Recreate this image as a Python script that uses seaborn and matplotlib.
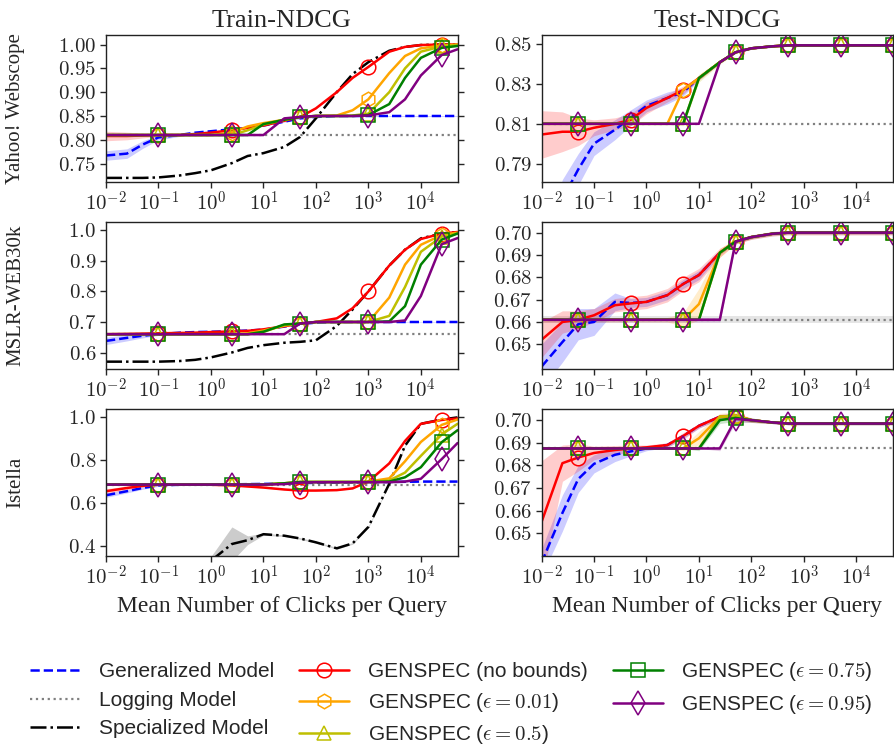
import numpy as np
import matplotlib
matplotlib.use("Agg")
import matplotlib.pyplot as plt
import matplotlib.ticker as mticker
import seaborn as sns

sns.set_style("ticks")
plt.rcParams["font.family"] = ["Liberation Serif", "DejaVu Serif"]
plt.rcParams["mathtext.fontset"] = "cm"
plt.rcParams["axes.linewidth"] = 1.0
plt.rcParams["axes.edgecolor"] = "#222222"

# mean number of clicks per query (x grid)
clicks = [0.01, 0.025, 0.05, 0.1, 0.25, 0.5, 1, 2.5, 5, 10, 25, 50, 100, 250, 500,
          1000, 2500, 5000, 10000, 25000, 50000]

# ---------------- Yahoo! Webscope ----------------
ya_log = 0.81
ya_tr_gen = [0.767, 0.771, 0.790, 0.805, 0.810, 0.815, 0.818, 0.822, 0.825, 0.830, 0.838,
             0.845, 0.848, 0.850, 0.850, 0.850, 0.850, 0.850, 0.850, 0.850, 0.850]
ya_tr_gen_sd = [0.010, 0.010, 0.008, 0.005, 0.003, 0.002, 0.002, 0.001, 0.001, 0.001, 0.001,
                0.001, 0.001, 0.001, 0.001, 0.001, 0.001, 0.001, 0.001, 0.001, 0.001]
ya_tr_spec = [0.720, 0.720, 0.720, 0.721, 0.725, 0.730, 0.736, 0.751, 0.766, 0.772, 0.785,
              0.806, 0.845, 0.900, 0.938, 0.963, 0.987, 0.995, 0.999, 1.000, 1.000]
ya_tr_red = [0.808, 0.808, 0.809, 0.810, 0.810, 0.812, 0.815, 0.820, 0.825, 0.830, 0.840,
             0.848, 0.866, 0.900, 0.930, 0.953, 0.985, 0.995, 0.999, 1.000, 1.000]
ya_tr_red_sd = [0.010, 0.008, 0.005, 0.003, 0.002, 0.001, 0.001, 0.001, 0.001, 0.001, 0.001,
                0.001, 0.001, 0.001, 0.001, 0.001, 0.001, 0.001, 0.001, 0.001, 0.001]
ya_tr_e01 = [0.810, 0.810, 0.810, 0.810, 0.810, 0.810, 0.810, 0.815, 0.828, 0.835, 0.842,
             0.848, 0.850, 0.851, 0.862, 0.885, 0.940, 0.976, 0.992, 0.998, 1.000]
ya_tr_e05 = [0.810, 0.810, 0.810, 0.810, 0.810, 0.810, 0.810, 0.810, 0.820, 0.832, 0.842,
             0.848, 0.850, 0.850, 0.851, 0.855, 0.900, 0.950, 0.985, 0.996, 0.999]
ya_tr_e075 = [0.810, 0.810, 0.810, 0.810, 0.810, 0.810, 0.810, 0.810, 0.810, 0.833, 0.842,
              0.848, 0.850, 0.850, 0.850, 0.852, 0.875, 0.930, 0.972, 0.993, 0.997]
ya_tr_e095 = [0.810, 0.810, 0.810, 0.810, 0.810, 0.810, 0.810, 0.810, 0.810, 0.810, 0.845,
              0.848, 0.850, 0.850, 0.850, 0.851, 0.858, 0.885, 0.935, 0.978, 0.990]

ya_te_gen = [0.740, 0.772, 0.787, 0.800, 0.807, 0.813, 0.819, 0.823, 0.826, 0.833, 0.841,
             0.846, 0.848, 0.849, 0.8495, 0.8495, 0.8495, 0.8495, 0.8495, 0.8495, 0.8495]
ya_te_gen_sd = [0.012, 0.010, 0.008, 0.006, 0.005, 0.004, 0.003, 0.003, 0.002, 0.001, 0.0005,
                0.0005, 0.0005, 0.0005, 0.0005, 0.0005, 0.0005, 0.0005, 0.0005, 0.0005, 0.0005]
ya_te_red = [0.8046, 0.806, 0.806, 0.808, 0.810, 0.812, 0.818, 0.823, 0.827, 0.833, 0.841,
             0.846, 0.848, 0.849, 0.8495, 0.8495, 0.8495, 0.8495, 0.8495, 0.8495, 0.8495]
ya_te_red_sd = [0.012, 0.010, 0.007, 0.004, 0.003, 0.003, 0.003, 0.002, 0.002, 0.001, 0.0005,
                0.0005, 0.0005, 0.0005, 0.0005, 0.0005, 0.0005, 0.0005, 0.0005, 0.0005, 0.0005]
ya_te_e01 = [0.810, 0.810, 0.810, 0.810, 0.810, 0.810, 0.810, 0.810, 0.827, 0.833, 0.841,
             0.846, 0.848, 0.849, 0.8495, 0.8495, 0.8495, 0.8495, 0.8495, 0.8495, 0.8495]
ya_te_e05 = [0.810, 0.810, 0.810, 0.810, 0.810, 0.810, 0.810, 0.810, 0.810, 0.833, 0.841,
             0.846, 0.848, 0.849, 0.8495, 0.8495, 0.8495, 0.8495, 0.8495, 0.8495, 0.8495]
ya_te_e05_sd = [0, 0, 0, 0, 0, 0, 0, 0, 0.001, 0.002, 0.001,
                0.0005, 0.0005, 0.0005, 0.0005, 0.0005, 0.0005, 0.0005, 0.0005, 0.0005, 0.0005]
ya_te_e075 = [0.810, 0.810, 0.810, 0.810, 0.810, 0.810, 0.810, 0.810, 0.810, 0.833, 0.841,
              0.846, 0.848, 0.849, 0.8495, 0.8495, 0.8495, 0.8495, 0.8495, 0.8495, 0.8495]
ya_te_e095 = [0.810, 0.810, 0.810, 0.810, 0.810, 0.810, 0.810, 0.810, 0.810, 0.810, 0.841,
              0.846, 0.848, 0.849, 0.8495, 0.8495, 0.8495, 0.8495, 0.8495, 0.8495, 0.8495]

# ---------------- MSLR-WEB30k ----------------
ms_tr_log = 0.66
ms_tr_gen = [0.638, 0.648, 0.655, 0.660, 0.665, 0.667, 0.668, 0.670, 0.672, 0.675, 0.685,
             0.693, 0.698, 0.700, 0.700, 0.700, 0.700, 0.700, 0.700, 0.700, 0.700]
ms_tr_gen_sd = [0.012, 0.010, 0.007, 0.004, 0.002, 0.001, 0.001, 0.001, 0.001, 0.001, 0.001,
                0.001, 0.001, 0.001, 0.001, 0.001, 0.001, 0.001, 0.001, 0.001, 0.001]
ms_tr_spec = [0.570, 0.570, 0.570, 0.570, 0.572, 0.576, 0.584, 0.600, 0.615, 0.624, 0.632,
              0.635, 0.640, 0.687, 0.741, 0.800, 0.885, 0.937, 0.974, 0.990, 0.995]
ms_tr_red = [0.660, 0.661, 0.662, 0.663, 0.664, 0.665, 0.667, 0.669, 0.671, 0.676, 0.686,
             0.695, 0.700, 0.712, 0.745, 0.800, 0.885, 0.937, 0.972, 0.990, 0.995]
ms_tr_red_sd = [0.003, 0.002, 0.001, 0.001, 0.001, 0.001, 0.001, 0.001, 0.001, 0.001, 0.001,
                0.001, 0.001, 0.001, 0.001, 0.001, 0.001, 0.001, 0.001, 0.001, 0.001]
ms_tr_e01 = [0.660, 0.660, 0.660, 0.660, 0.660, 0.660, 0.660, 0.660, 0.663, 0.672, 0.688,
             0.695, 0.700, 0.700, 0.700, 0.700, 0.780, 0.888, 0.953, 0.985, 0.993]
ms_tr_e05 = [0.660, 0.660, 0.660, 0.660, 0.660, 0.660, 0.660, 0.660, 0.660, 0.668, 0.690,
             0.695, 0.700, 0.700, 0.700, 0.700, 0.720, 0.815, 0.930, 0.980, 0.990]
ms_tr_e075 = [0.660, 0.660, 0.660, 0.660, 0.660, 0.660, 0.660, 0.660, 0.660, 0.668, 0.692,
              0.695, 0.700, 0.700, 0.700, 0.700, 0.702, 0.752, 0.888, 0.970, 0.990]
ms_tr_e095 = [0.660, 0.660, 0.660, 0.660, 0.660, 0.660, 0.660, 0.660, 0.660, 0.660, 0.660,
              0.695, 0.700, 0.700, 0.700, 0.700, 0.700, 0.705, 0.785, 0.955, 0.975]

ms_te_log = 0.661
ms_te_log_sd = 0.0016
ms_te_gen = [0.640, 0.651, 0.659, 0.660, 0.669, 0.6685, 0.669, 0.672, 0.677, 0.681, 0.691,
             0.696, 0.698, 0.6995, 0.700, 0.700, 0.700, 0.700, 0.700, 0.700, 0.700]
ms_te_gen_sd = [0.010, 0.009, 0.007, 0.006, 0.004, 0.002, 0.002, 0.002, 0.002, 0.002, 0.001,
                0.0005, 0.0005, 0.0005, 0.0005, 0.0005, 0.0005, 0.0005, 0.0005, 0.0005, 0.0005]
ms_te_red = [0.652, 0.660, 0.661, 0.663, 0.6675, 0.6683, 0.669, 0.672, 0.677, 0.681, 0.691,
             0.696, 0.698, 0.6995, 0.700, 0.700, 0.700, 0.700, 0.700, 0.700, 0.700]
ms_te_red_sd = [0.008, 0.005, 0.004, 0.003, 0.003, 0.003, 0.003, 0.003, 0.003, 0.003, 0.002,
                0.001, 0.0008, 0.0006, 0.0006, 0.0006, 0.0006, 0.0006, 0.0006, 0.0006, 0.0006]
ms_te_e01 = [0.661, 0.661, 0.661, 0.661, 0.661, 0.661, 0.661, 0.661, 0.661, 0.668, 0.691,
             0.696, 0.698, 0.6995, 0.700, 0.700, 0.700, 0.700, 0.700, 0.700, 0.700]
ms_te_e01_sd = [0.001, 0.001, 0.001, 0.001, 0.001, 0.001, 0.001, 0.001, 0.003, 0.007, 0.002,
                0.001, 0.001, 0.001, 0.001, 0.001, 0.001, 0.001, 0.001, 0.001, 0.001]
ms_te_e05 = [0.661, 0.661, 0.661, 0.661, 0.661, 0.661, 0.661, 0.661, 0.661, 0.661, 0.691,
             0.696, 0.698, 0.6995, 0.700, 0.700, 0.700, 0.700, 0.700, 0.700, 0.700]
ms_te_e075 = [0.661, 0.661, 0.661, 0.661, 0.661, 0.661, 0.661, 0.661, 0.661, 0.661, 0.691,
              0.696, 0.698, 0.6995, 0.700, 0.700, 0.700, 0.700, 0.700, 0.700, 0.700]
ms_te_e095 = [0.661, 0.661, 0.661, 0.661, 0.661, 0.661, 0.661, 0.661, 0.661, 0.661, 0.661,
              0.696, 0.698, 0.6995, 0.700, 0.700, 0.700, 0.700, 0.700, 0.700, 0.700]
ms_te_e095_sd = [0.001, 0.001, 0.001, 0.001, 0.001, 0.001, 0.001, 0.001, 0.001, 0.001, 0.001,
                 0.001, 0.001, 0.001, 0.001, 0.001, 0.001, 0.001, 0.001, 0.001, 0.001]

# ---------------- Istella ----------------
is_tr_log = 0.686
is_tr_gen = [0.636, 0.655, 0.670, 0.682, 0.685, 0.686, 0.686, 0.687, 0.688, 0.689, 0.691,
             0.693, 0.694, 0.695, 0.696, 0.697, 0.698, 0.699, 0.700, 0.700, 0.700]
is_tr_gen_sd = [0.010, 0.008, 0.006, 0.004, 0.002, 0.001, 0.001, 0.001, 0.001, 0.001, 0.001,
                0.001, 0.001, 0.001, 0.001, 0.001, 0.001, 0.001, 0.001, 0.001, 0.001]
is_tr_spec = [0.280, 0.280, 0.280, 0.280, 0.290, 0.300, 0.330, 0.408, 0.426, 0.454, 0.447,
              0.434, 0.416, 0.388, 0.411, 0.488, 0.690, 0.868, 0.970, 0.990, 1.000]
is_tr_spec_sd = [0.005, 0.005, 0.005, 0.005, 0.005, 0.010, 0.020, 0.080, 0.020, 0.005, 0.004,
                 0.004, 0.004, 0.004, 0.004, 0.004, 0.004, 0.004, 0.002, 0.001, 0.001]
is_tr_red = [0.655, 0.670, 0.680, 0.685, 0.686, 0.686, 0.685, 0.682, 0.677, 0.672, 0.663,
             0.658, 0.658, 0.660, 0.668, 0.700, 0.785, 0.890, 0.970, 0.988, 0.995]
is_tr_red_sd = [0.012, 0.008, 0.005, 0.003, 0.002, 0.002, 0.002, 0.002, 0.002, 0.002, 0.002,
                0.002, 0.002, 0.002, 0.002, 0.002, 0.002, 0.002, 0.002, 0.002, 0.002]
is_tr_e01 = [0.686, 0.686, 0.686, 0.686, 0.686, 0.686, 0.686, 0.686, 0.686, 0.686, 0.692,
             0.698, 0.698, 0.698, 0.698, 0.700, 0.715, 0.795, 0.885, 0.965, 0.990]
is_tr_e05 = [0.686, 0.686, 0.686, 0.686, 0.686, 0.686, 0.686, 0.686, 0.686, 0.686, 0.692,
             0.698, 0.698, 0.698, 0.698, 0.698, 0.705, 0.742, 0.820, 0.920, 0.970]
is_tr_e075 = [0.686, 0.686, 0.686, 0.686, 0.686, 0.686, 0.686, 0.686, 0.686, 0.686, 0.692,
              0.698, 0.698, 0.698, 0.698, 0.698, 0.700, 0.720, 0.767, 0.884, 0.940]
is_tr_e095 = [0.686, 0.686, 0.686, 0.686, 0.686, 0.686, 0.686, 0.686, 0.686, 0.686, 0.688,
              0.695, 0.697, 0.697, 0.697, 0.697, 0.697, 0.700, 0.713, 0.805, 0.880]

is_te_log = 0.6875
is_te_gen = [0.637, 0.659, 0.674, 0.6807, 0.6847, 0.6862, 0.6875, 0.689, 0.693, 0.6975, 0.7015,
             0.702, 0.700, 0.699, 0.6985, 0.6985, 0.6985, 0.6985, 0.6985, 0.6985, 0.6985]
is_te_gen_sd = [0.006, 0.008, 0.006, 0.004, 0.003, 0.002, 0.001, 0.001, 0.001, 0.001, 0.001,
                0.001, 0.0005, 0.0005, 0.0005, 0.0005, 0.0005, 0.0005, 0.0005, 0.0005, 0.0005]
is_te_red = [0.655, 0.681, 0.6835, 0.6855, 0.6868, 0.6875, 0.688, 0.689, 0.693, 0.6975, 0.7015,
             0.702, 0.700, 0.699, 0.6985, 0.6985, 0.6985, 0.6985, 0.6985, 0.6985, 0.6985]
is_te_red_sd = [0.027, 0.008, 0.006, 0.003, 0.002, 0.0015, 0.001, 0.001, 0.0015, 0.001, 0.001,
                0.001, 0.0008, 0.0005, 0.0005, 0.0005, 0.0005, 0.0005, 0.0005, 0.0005, 0.0005]
is_te_e01 = [0.6875, 0.6875, 0.6875, 0.6875, 0.6875, 0.6875, 0.6875, 0.6875, 0.6875, 0.692, 0.7015,
             0.702, 0.700, 0.699, 0.6985, 0.6985, 0.6985, 0.6985, 0.6985, 0.6985, 0.6985]
is_te_e01_sd = [0, 0, 0, 0, 0, 0, 0, 0, 0.001, 0.003, 0.0015,
                0.0015, 0.001, 0.0005, 0.0005, 0.0005, 0.0005, 0.0005, 0.0005, 0.0005, 0.0005]
is_te_e05 = [0.6875, 0.6875, 0.6875, 0.6875, 0.6875, 0.6875, 0.6875, 0.6875, 0.6875, 0.6875, 0.7015,
             0.702, 0.700, 0.699, 0.6985, 0.6985, 0.6985, 0.6985, 0.6985, 0.6985, 0.6985]
is_te_e075 = [0.6875, 0.6875, 0.6875, 0.6875, 0.6875, 0.6875, 0.6875, 0.6875, 0.6875, 0.6875, 0.700,
              0.701, 0.700, 0.699, 0.6985, 0.6985, 0.6985, 0.6985, 0.6985, 0.6985, 0.6985]
is_te_e075_sd = [0, 0, 0, 0, 0, 0, 0, 0, 0, 0.001, 0.0015,
                 0.0015, 0.001, 0.0005, 0.0005, 0.0005, 0.0005, 0.0005, 0.0005, 0.0005, 0.0005]
is_te_e095 = [0.6875, 0.6875, 0.6875, 0.6875, 0.6875, 0.6875, 0.6875, 0.6875, 0.6875, 0.6875, 0.6875,
              0.7005, 0.700, 0.699, 0.6985, 0.6985, 0.6985, 0.6985, 0.6985, 0.6985, 0.6985]
is_te_e095_sd = [0, 0, 0, 0, 0, 0, 0, 0, 0, 0, 0.001,
                 0.0015, 0.001, 0.0005, 0.0005, 0.0005, 0.0005, 0.0005, 0.0005, 0.0005, 0.0005]

styles = {
    "gen": dict(color="blue", linestyle="--", label="Generalized Model"),
    "spec": dict(color="black", linestyle="-.", label="Specialized Model"),
    "red": dict(color="red", marker="o", ms=10.5, label="GENSPEC (no bounds)"),
    "e01": dict(color="orange", marker="h", ms=10.5, label=r"GENSPEC ($\epsilon = 0.01$)"),
    "e05": dict(color="#bfbf00", marker="^", ms=10, label=r"GENSPEC ($\epsilon = 0.5$)"),
    "e075": dict(color="green", marker="s", ms=9.5, label=r"GENSPEC ($\epsilon = 0.75$)"),
    "e095": dict(color="purple", marker="d", ms=12, label=r"GENSPEC ($\epsilon = 0.95$)"),
}

# row, col, logging value, logging band, series, bands, y ticks, tick format, y range
panels = [
    (0, 0, ya_log, 0, {"gen": ya_tr_gen, "spec": ya_tr_spec, "red": ya_tr_red, "e01": ya_tr_e01,
                       "e05": ya_tr_e05, "e075": ya_tr_e075, "e095": ya_tr_e095},
     {"gen": ya_tr_gen_sd, "red": ya_tr_red_sd},
     [0.75, 0.80, 0.85, 0.90, 0.95, 1.00], "%.2f", (0.711, 1.02)),
    (0, 1, ya_log, 0, {"gen": ya_te_gen, "red": ya_te_red, "e01": ya_te_e01,
                       "e05": ya_te_e05, "e075": ya_te_e075, "e095": ya_te_e095},
     {"gen": ya_te_gen_sd, "red": ya_te_red_sd, "e05": ya_te_e05_sd},
     [0.79, 0.81, 0.83, 0.85], "%.2f", (0.7806, 0.8547)),
    (1, 0, ms_tr_log, 0, {"gen": ms_tr_gen, "spec": ms_tr_spec, "red": ms_tr_red, "e01": ms_tr_e01,
                          "e05": ms_tr_e05, "e075": ms_tr_e075, "e095": ms_tr_e095},
     {"gen": ms_tr_gen_sd, "red": ms_tr_red_sd},
     [0.6, 0.7, 0.8, 0.9, 1.0], "%.1f", (0.5456, 1.028)),
    (1, 1, ms_te_log, ms_te_log_sd, {"gen": ms_te_gen, "red": ms_te_red, "e01": ms_te_e01,
                                     "e05": ms_te_e05, "e075": ms_te_e075, "e095": ms_te_e095},
     {"gen": ms_te_gen_sd, "red": ms_te_red_sd, "e01": ms_te_e01_sd, "e095": ms_te_e095_sd},
     [0.65, 0.66, 0.67, 0.68, 0.69, 0.70], "%.2f", (0.6389, 0.7048)),
    (2, 0, is_tr_log, 0, {"gen": is_tr_gen, "spec": is_tr_spec, "red": is_tr_red, "e01": is_tr_e01,
                          "e05": is_tr_e05, "e075": is_tr_e075, "e095": is_tr_e095},
     {"gen": is_tr_gen_sd, "spec": is_tr_spec_sd, "red": is_tr_red_sd},
     [0.4, 0.6, 0.8, 1.0], "%.1f", (0.352, 1.04)),
    (2, 1, is_te_log, 0, {"gen": is_te_gen, "red": is_te_red, "e01": is_te_e01,
                          "e05": is_te_e05, "e075": is_te_e075, "e095": is_te_e095},
     {"gen": is_te_gen_sd, "red": is_te_red_sd, "e01": is_te_e01_sd,
      "e075": is_te_e075_sd, "e095": is_te_e095_sd},
     [0.65, 0.66, 0.67, 0.68, 0.69, 0.70], "%.2f", (0.640, 0.705)),
]

row_names = ["Yahoo! Webscope", "MSLR-WEB30k", "Istella"]
col_names = ["Train-NDCG", "Test-NDCG"]

fig = plt.figure(figsize=(8.94, 7.53), dpi=100)
axes = fig.subplots(3, 2)
fig.subplots_adjust(left=0.1186, right=0.9989, top=0.9535, bottom=0.2616,
                    hspace=0.27, wspace=0.239)

x = np.array(clicks)
for r, c, logv, log_sd, series, bands, yticks, yfmt, ylim in panels:
    ax = axes[r, c]
    ax.set_xscale("log")
    every = (3, 4) if c == 0 else (2, 3)
    for key in ["gen", "log", "spec", "red", "e01", "e05", "e075", "e095"]:
        if key == "log":
            ax.axhline(logv, color="gray", linestyle=":", lw=1.6, zorder=2,
                       label="Logging Model")
            if log_sd:
                ax.axhspan(logv - log_sd, logv + log_sd, color="gray", alpha=0.2, lw=0)
            continue
        if key not in series:
            continue
        y = np.array(series[key])
        st = dict(styles[key])
        col = st.pop("color")
        if key in bands:
            sd = np.array(bands[key])
            ax.fill_between(x, y - sd, y + sd, color=col if key != "spec" else "gray",
                            alpha=0.2 if key != "spec" else 0.4, lw=0)
        kw = dict(color=col, lw=1.8, label=st.pop("label"))
        if "marker" in st:
            kw.update(marker=st.pop("marker"), ms=st.pop("ms"), markevery=every,
                      markerfacecolor="none", markeredgecolor=col, markeredgewidth=1.1)
        kw.update(st)
        sns.lineplot(x=clicks, y=series[key], ax=ax, errorbar=None, legend=False, **kw)

    ax.set_xlim(0.01, 5e4)
    ax.set_ylim(*ylim)
    ax.xaxis.set_major_locator(mticker.FixedLocator([1e-2, 1e-1, 1, 10, 100, 1e3, 1e4]))
    ax.xaxis.set_minor_locator(mticker.NullLocator())
    ax.xaxis.set_major_formatter(mticker.FuncFormatter(
        lambda v, p: r"$10^{%d}$" % int(round(np.log10(v)))))
    ax.yaxis.set_major_locator(mticker.FixedLocator(yticks))
    ax.yaxis.set_major_formatter(mticker.FuncFormatter(
        lambda v, p, f=yfmt: "$" + (f % v) + "$"))
    ax.tick_params(axis="both", which="major", labelsize=15, length=4, width=1,
                   pad=3, right=True, direction="out")
    ax.set_xlabel("")
    ax.set_ylabel("")
    if c == 0:
        ax.set_ylabel(row_names[r], fontsize=15)
        ax.yaxis.set_label_coords(-0.23, 0.5)
    if r == 0:
        ax.set_title(col_names[c], fontsize=19, pad=6)
    if r == 2:
        ax.set_xlabel("Mean Number of Clicks per Query", fontsize=17)
        ax.xaxis.set_label_coords(0.5, -0.27)

handles, labels = axes[0, 0].get_legend_handles_labels()
fig.legend(handles, labels, loc="center", bbox_to_anchor=(0.505, 0.066), ncol=3,
           frameon=False, prop=dict(family=["Liberation Sans", "DejaVu Sans"], size=15),
           handlelength=2.4, handletextpad=0.9, columnspacing=1.2, labelspacing=0.45)

fig.savefig("out.png", dpi=100)
